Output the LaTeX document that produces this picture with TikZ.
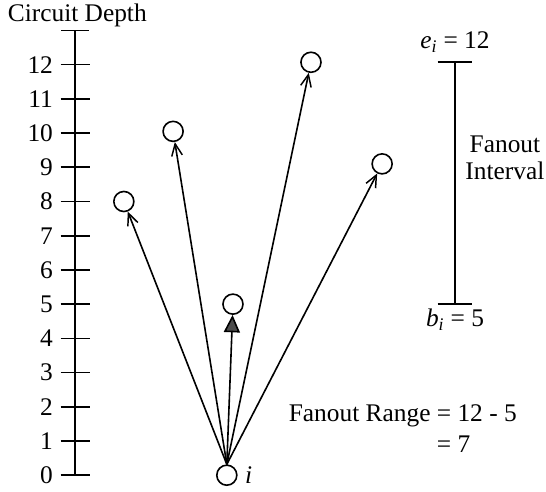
\documentclass[tikz,border=0pt]{standalone}
\usepackage{fontspec}
\setmainfont{Liberation Serif}
\usetikzlibrary{arrows.meta, positioning}

\begin{document}
\begin{tikzpicture}[x=0.9cm, y=0.9cm, line width=1.2pt,
        gate/.style={circle, draw, minimum size=15pt, inner sep=0pt},
        fan/.style={-{Straight Barb[length=9pt, width=8pt, line width=1.1pt]}},
        lbl/.style={font=\fontsize{19}{23}\selectfont, inner sep=0pt}]
    \useasboundingbox (-2.19,-0.47) rectangle (13.77,13.89);

    \node[lbl] (title) at (0.07,13.45) {Circuit Depth};
    \draw[line width=1.4pt] (0,0) -- (0,13);
    \draw (-0.4,13) -- (0.4,13);
    \foreach \d in {0,...,12} {
        \draw (-0.42,\d) -- (0.45,\d);
        \node[lbl, anchor=east] (tick\d) at (-0.62,\d) {\d};
    }

    \node[gate] (i) at (4.44,0) {};
    \node[lbl, right=5pt of i] (ilbl) {\textit{i}};
    \node[gate] (n8) at (1.43,8) {};
    \node[gate] (n10) at (2.87,10.05) {};
    \node[gate] (n5) at (4.62,5) {};
    \node[gate] (n12) at (6.9,12.07) {};
    \node[gate] (n9) at (8.98,9.1) {};

    \draw[fan] (i.north) -- (n8);
    \draw[fan] (i.north) -- (n10);
    \draw[-{Triangle[length=13pt, width=12pt, fill=black!70]}] (i.north) -- (n5);
    \draw[fan] (i.north) -- (n12);
    \draw[fan] (i.north) -- (n9);

    \draw[line width=1.4pt] (11.11,5) -- (11.11,12.07);
    \draw (10.6,12.07) -- (11.62,12.07);
    \draw (10.6,5) -- (11.62,5);
    \node[lbl] (ei) at (11.11,12.66) {\textit{e}\textsubscript{\textit{i}} = 12};
    \node[lbl] (bi) at (11.11,4.55) {\textit{b}\textsubscript{\textit{i}} = 5};
    \node[lbl, font=\fontsize{19}{20}\selectfont, align=center] (intv) at (12.57,9.27) {Fanout\\Interval};

    \node[lbl, anchor=west] (range) at (6.23,1.3) {\begin{tabular}{@{}r@{ }l@{}}Fanout Range & = 12 - 5\\ & = 7\end{tabular}};
\end{tikzpicture}
\end{document}
